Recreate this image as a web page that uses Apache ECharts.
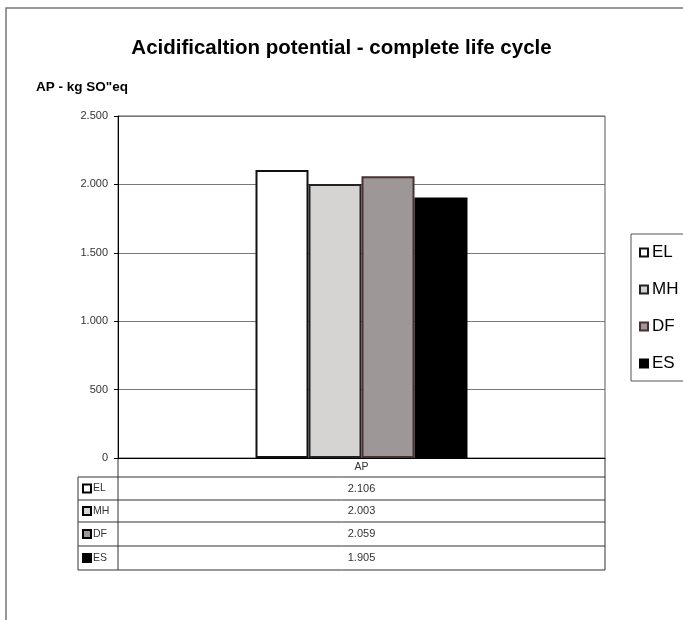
<!DOCTYPE html>
<html><head><meta charset="utf-8">
<script src="https://cdn.jsdelivr.net/npm/echarts@6/dist/echarts.min.js"></script>
<style>html,body{margin:0;padding:0;background:#fff}#c{width:683px;height:620px}</style>
</head><body><div id="c"></div>
<script>
var categories = ['AP'];
var seriesNames = ['EL', 'MH', 'DF', 'ES'];
var seriesValues = [[2106], [2003], [2059], [1905]];
var yTicks = [0, 500, 1000, 1500, 2000, 2500];
var fills = ['#ffffff', '#d6d3d3', '#9d9797', '#000000'];
var borders = ['#111111', '#222222', '#4a3030', '#000000'];
var FONT = 'Arial, "Liberation Sans", sans-serif';

function fmt(v) { return String(v).replace(/\B(?=(\d{3})+(?!\d))/g, '.'); }

var L = 118, R = 605, T = 116, B = 458;
var tableLeft = 78;
var rowLines = [477, 500, 522, 546, 570];

var chart = echarts.init(document.getElementById('c'));

var graphics = [];
graphics.push({ type: 'polyline', shape: { points: [[6, 620], [6, 8], [690, 8]] }, style: { stroke: '#777', lineWidth: 1.5, fill: null }, silent: true });
rowLines.forEach(function (y) {
  graphics.push({ type: 'line', shape: { x1: tableLeft, y1: y, x2: R, y2: y }, style: { stroke: '#333', lineWidth: 1 }, silent: true });
});
graphics.push({ type: 'line', shape: { x1: tableLeft, y1: rowLines[0], x2: tableLeft, y2: rowLines[rowLines.length - 1] }, style: { stroke: '#333', lineWidth: 1 } });
graphics.push({ type: 'line', shape: { x1: L, y1: B, x2: L, y2: rowLines[rowLines.length - 1] }, style: { stroke: '#333', lineWidth: 1 } });
graphics.push({ type: 'line', shape: { x1: R, y1: B, x2: R, y2: rowLines[rowLines.length - 1] }, style: { stroke: '#333', lineWidth: 1 } });
seriesNames.forEach(function (n, i) {
  var yc = (rowLines[i] + rowLines[i + 1]) / 2;
  graphics.push({ type: 'rect', shape: { x: 83, y: yc - 4, width: 8, height: 8 }, style: { fill: fills[i], stroke: '#000', lineWidth: 2 } });
  graphics.push({ type: 'text', x: 93, y: yc, style: { text: n, font: '10.5px ' + FONT, fill: '#333', textVerticalAlign: 'middle', verticalAlign: 'middle' } });
  graphics.push({ type: 'text', x: (L + R) / 2, y: yc, style: { text: fmt(seriesValues[i][0]), font: '11px ' + FONT, fill: '#333', textAlign: 'center', align: 'center', textVerticalAlign: 'middle', verticalAlign: 'middle' } });
});

var option = {
  animation: false,
  backgroundColor: '#fff',
  title: {
    text: 'Acidificaltion potential - complete life cycle',
    left: 'center', top: 33,
    textStyle: { fontFamily: FONT, fontSize: 20.5, fontWeight: 'bold', color: '#000' }
  },
  legend: {
    orient: 'vertical', left: 631, top: 234,
    padding: [10, 8, 9, 8], itemGap: 20,
    itemWidth: 8, itemHeight: 8, icon: 'rect',
    borderColor: '#555', borderWidth: 1,
    textStyle: { fontFamily: FONT, fontSize: 17, color: '#000', lineHeight: 17, padding: [0, 0, 0, -1] },
    data: seriesNames
  },
  grid: { left: L, right: 683 - R, top: T, bottom: 620 - B, show: true, borderColor: '#555', borderWidth: 1, backgroundColor: 'transparent' },
  xAxis: {
    type: 'category', data: categories,
    axisLine: { lineStyle: { color: '#000', width: 1 } },
    axisTick: { show: false },
    axisLabel: { margin: 4, fontFamily: FONT, fontSize: 10.5, color: '#333' }
  },
  yAxis: {
    type: 'value', min: yTicks[0], max: yTicks[yTicks.length - 1], interval: 500,
    name: 'AP - kg SO"eq', nameLocation: 'end', nameGap: 22,
    nameTextStyle: { fontFamily: FONT, fontSize: 13.5, fontWeight: 'bold', color: '#000', align: 'left', padding: [0, 0, 0, -82] },
    axisLine: { show: true, lineStyle: { color: '#000', width: 1 } },
    axisTick: { show: true, length: 4, lineStyle: { color: '#000' } },
    axisLabel: { margin: 10, fontFamily: FONT, fontSize: 11, color: '#333', formatter: function (v) { return fmt(v); } },
    splitLine: { show: true, lineStyle: { color: '#777', width: 1 } }
  },
  series: seriesNames.map(function (n, i) {
    return {
      name: n, type: 'bar', data: seriesValues[i], barWidth: 53, barGap: '0%',
      itemStyle: { color: fills[i], borderColor: borders[i], borderWidth: 2 }
    };
  }),
  graphic: graphics
};
chart.setOption(option);
</script></body></html>
